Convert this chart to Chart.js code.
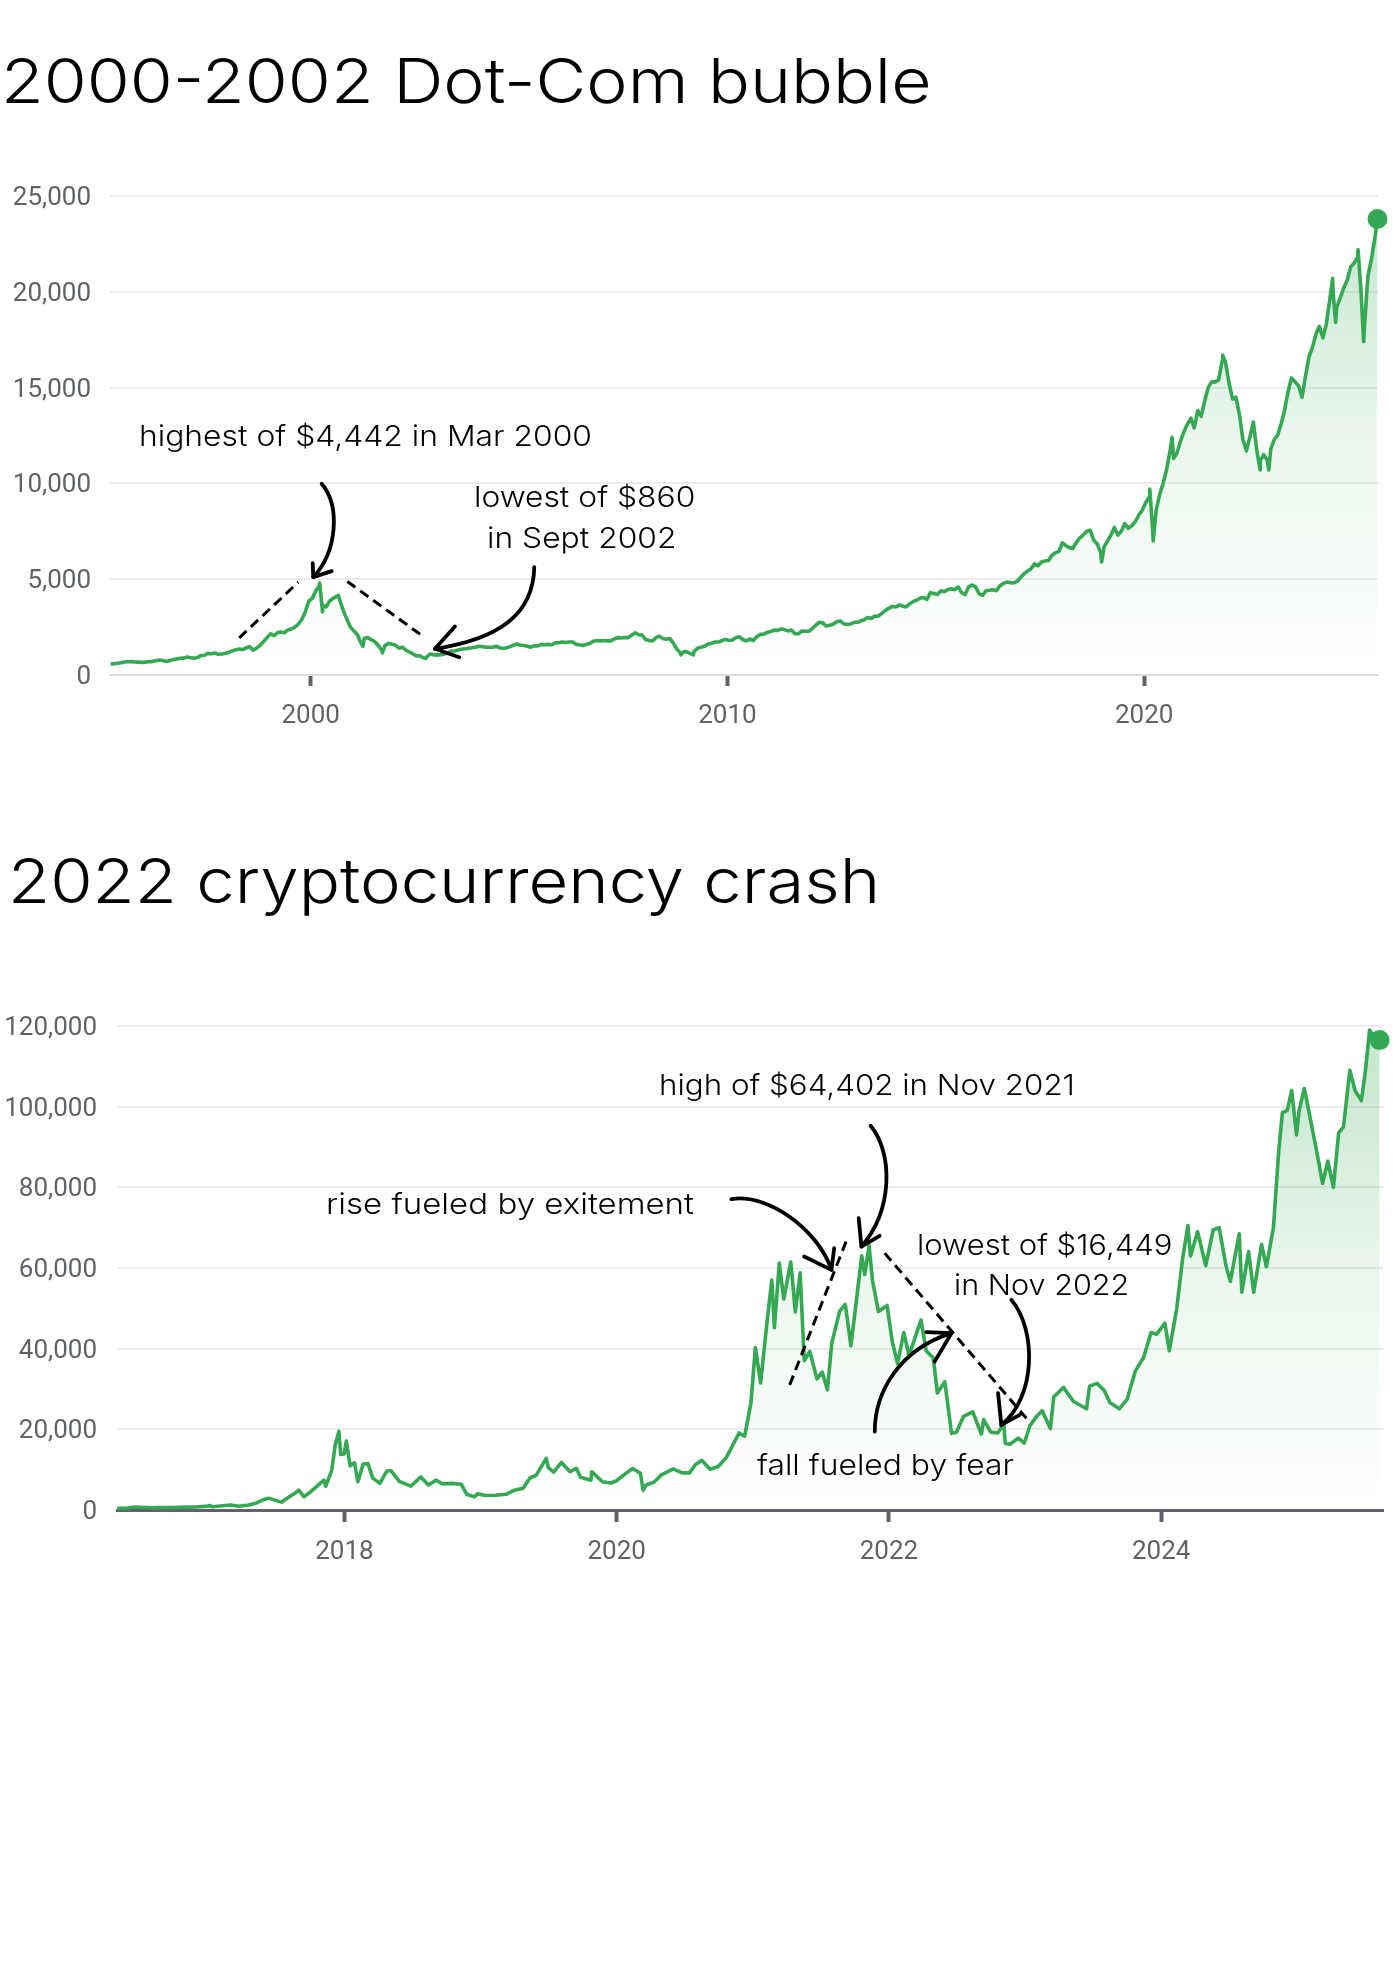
<!DOCTYPE html>
<html><head><meta charset="utf-8">
<script src="https://cdn.jsdelivr.net/npm/chart.js@4.4.1/dist/chart.umd.min.js"></script>
<style>
html,body{margin:0;padding:0;background:#fff;}
body{width:1400px;height:1980px;position:relative;overflow:hidden;}
.box{position:absolute;left:0;width:1400px;height:600px;}
.lbl{position:absolute;left:0;top:0;white-space:nowrap;color:#000;margin:0;padding:0;}
</style></head><body>
<div class="box" style="top:150px"><canvas id="c1"></canvas></div>
<div class="box" style="top:980px"><canvas id="c2"></canvas></div>
<script>
// ---------------- DATA ----------------
// Nasdaq-100, monthly readings (mid-month)
const nasdaq1995to1999 = [ // from Mar 1995
  570,590,610,640,680,690,700,680,670,660,
  670,700,700,740,780,760,710,750,810,830,870,880,
  940,900,870,920,1010,1030,1130,1110,1150,1080,1100,1130,
  1180,1260,1320,1360,1330,1420,1480,1300,1400,1550,1750,1950,
  2150,2050,2200,2250,2200,2350,2400,2500,2650,2900,3300,3850];
const nasdaq2000to2004 = [
  4000,4400,4650,3650,3550,3850,4000,4100,3850,3350,2900,2500,
  2300,2100,1700,1900,1950,1850,1750,1550,1300,1550,1650,1600,
  1550,1400,1450,1300,1200,1100,1000,1000,900,950,1100,1050,
  1050,1050,1100,1150,1250,1250,1300,1350,1370,1400,1420,1450,
  1500,1480,1450,1450,1450,1500,1420,1380,1420,1480,1560,1620];
const nasdaq2005to2009 = [
  1550,1540,1500,1450,1530,1520,1600,1580,1600,1580,1680,1680,
  1720,1700,1720,1720,1600,1580,1540,1600,1660,1760,1800,1780,
  1800,1780,1780,1880,1950,1940,1960,1950,2080,2200,2100,2080,
  1850,1800,1780,1950,2030,1900,1870,1900,1650,1350,1150,1220,
  1200,1100,1230,1400,1450,1500,1620,1650,1720,1720,1800,1860];
const nasdaq2010to2014 = [
  1800,1830,1950,2000,1850,1780,1880,1800,2000,2120,2130,2220,
  2270,2340,2330,2400,2370,2300,2350,2150,2150,2300,2280,2280,
  2430,2600,2750,2720,2560,2600,2650,2780,2820,2680,2640,2660,
  2750,2750,2830,2880,3000,2950,3080,3070,3220,3360,3480,3580,
  3550,3650,3600,3550,3700,3830,3900,4000,4050,3950,4300,4250];
const nasdaq2015to2019 = [
  4200,4400,4350,4450,4500,4450,4600,4300,4200,4600,4700,4600,
  4250,4150,4400,4420,4450,4400,4650,4780,4850,4820,4800,4900,
  5100,5300,5420,5550,5800,5700,5900,5950,5980,6250,6380,6450,
  6900,6750,6650,6600,6900,7150,7300,7500,7550,7050,6850,6400,
  6700,7000,7300,7700,7300,7500,7900,7650,7800,8000,8350,8600];
const nasdaq2020to2025 = [ // to Jul 2025
  9000,9300,7600,8600,9400,10000,10700,11700,11300,11600,12200,12700,
  13100,13400,12900,13800,13500,14300,15000,15300,15300,15400,16400,16300,
  15200,14400,14500,13600,12300,11700,12400,13200,11700,11200,11500,11200,
  11800,12300,12500,13100,13800,14800,15500,15300,15100,14500,15600,16600,
  17100,17800,18200,17600,18300,19600,19900,19200,19700,20200,20600,21300,
  21500,21800,20100,18200,20800,21700,22800];
const nasdaqTurningPoints = [
  ["2000-03-20",4800],["2000-04-14",3300],["2000-09-01",4150],["2001-04-04",1500],
  ["2001-09-21",1150],["2002-10-08",860],["2008-11-20",1050],["2009-03-09",1050],
  ["2018-12-24",5900],["2020-02-19",9700],["2020-03-20",7000],["2020-09-02",12400],
  ["2021-11-19",16700],["2022-10-13",10700],["2022-12-28",10700],["2024-07-10",20700],
  ["2024-08-05",18400],["2025-02-18",22200],["2025-04-08",17400],["2025-08-07",23800]];

// Bitcoin, [MM-DD, price] readings per year
const btc2016 = [["05-01",450],["05-25",450],["06-17",750],["07-01",670],["08-02",550],["08-20",580],["09-15",610],["10-15",640],["11-10",710],["12-01",750],["12-31",960]];
const btc2017 = [["01-04",1130],["01-12",790],["02-01",990],["03-02",1220],["03-24",930],["04-20",1230],["05-10",1750],["05-25",2400],["06-11",2950],["07-16",1950],["08-05",3200],["08-20",4100],["09-01",4900],["09-14",3300],["10-01",4400],["10-20",6000],["11-07",7400],["11-12",5900],["11-28",9900],["12-07",16000],["12-17",19500],["12-22",13800],["12-31",13900]];
const btc2018 = [["01-06",17100],["01-16",11000],["01-28",11700],["02-06",7000],["02-20",11400],["03-05",11500],["03-18",7900],["04-06",6600],["04-24",9600],["05-05",9800],["05-28",7100],["06-28",5900],["07-25",8200],["08-14",6200],["09-04",7400],["09-20",6500],["10-15",6600],["11-10",6400],["11-25",3900],["12-15",3250],["12-24",4000]];
const btc2019 = [["01-15",3600],["02-10",3650],["03-10",3900],["04-02",4900],["04-25",5400],["05-14",8000],["05-30",8600],["06-26",12800],["07-02",10500],["07-16",9400],["08-06",11800],["08-29",9500],["09-15",10300],["09-26",8100],["10-24",7400],["10-26",9500],["11-24",7000],["12-17",6700],["12-31",7200]];
const btc2020 = [["01-20",8700],["02-13",10300],["03-05",9100],["03-12",4900],["03-20",6200],["04-10",6900],["04-30",8700],["05-15",9400],["06-01",10200],["06-25",9200],["07-15",9200],["07-31",11300],["08-17",12300],["09-08",10100],["09-30",10800],["10-21",12900],["11-05",15500],["11-25",19100],["12-10",18300],["12-27",26500]];
const btc2021 = [["01-08",40300],["01-22",31500],["02-08",46500],["02-21",57000],["02-28",45200],["03-13",61200],["03-25",52300],["04-13",61500],["04-25",49100],["05-08",58800],["05-19",37000],["06-03",39300],["06-22",32500],["07-06",34200],["07-20",29800],["08-01",41500],["08-22",49300],["09-06",51000],["09-21",40700],["10-01",48200],["10-20",63000],["10-28",58400],["11-09",65500],["11-18",56900],["12-04",49200],["12-27",50700]];
const btc2022 = [["01-10",41800],["01-24",36300],["02-10",44000],["02-24",38300],["03-28",47100],["04-11",39500],["04-30",37700],["05-11",29000],["05-31",31800],["06-18",19000],["07-01",19300],["07-20",23200],["08-14",24300],["09-06",18800],["09-12",22400],["10-01",19300],["10-20",19100],["11-05",21300],["11-09",16500],["11-21",16300],["12-14",17800],["12-30",16600]];
const btc2023 = [["01-14",20900],["01-31",23100],["02-16",24600],["03-10",20200],["03-19",28000],["04-14",30400],["05-11",26900],["06-15",25100],["06-23",30700],["07-13",31400],["08-01",29700],["08-17",26600],["09-11",25100],["10-02",27500],["10-24",34500],["11-15",37800],["12-05",44000],["12-20",43600]];
const btc2024 = [["01-11",46300],["01-23",39500],["02-12",50000],["02-28",62500],["03-13",70500],["03-20",63000],["04-08",69000],["04-30",60600],["05-20",69500],["06-05",70000],["06-24",60300],["07-05",56700],["07-29",68500],["08-05",54000],["08-23",64100],["09-06",54000],["09-27",65900],["10-10",60300],["10-29",70000],["11-12",88700],["11-22",98500],["12-05",99000],["12-17",104000],["12-30",93000]];
const btc2025 = [["01-06",99000],["01-20",104500],["02-03",98000],["02-24",88000],["03-10",81000],["03-24",86500],["04-08",80000],["04-22",93500],["05-05",95000],["05-22",109000],["06-05",104000],["06-22",101500],["07-03",109000],["07-14",119000],["07-24",117500],["08-10",116500]];

// Axis ticks
const dotcomYearTicks = [2000, 2010, 2020];
const cryptoYearTicks = [2018, 2020, 2022, 2024];

// Titles and annotation texts
const titleDotcom = "2000-2002 Dot-Com bubble";
const titleCrypto = "2022 cryptocurrency crash";
const notesDotcom = ["highest of $4,442 in Mar 2000", "lowest of $860", "in Sept 2002"];
const notesCrypto = ["high of $64,402 in Nov 2021", "rise fueled by exitement", "lowest of $16,449", "in Nov 2022", "fall fueled by fear"];

// Hand-drawn arrows / dashed guides, in data units [year, value]
const dotcomArrows = [
  {from:[2000.264,9982], c1:[2000.703,8850], c2:[2000.655,6500], to:[2000.062,5106], barbs:[[2000.048,5837],[2000.504,5419]]},
  {from:[2005.365,5628], c1:[2005.341,3195], c2:[2004.542,1890], to:[2002.982,1368], barbs:[[2003.462,2532],[2003.565,929]]}];
const dotcomDashes = [[[1998.287,1942],[1999.702,4845]], [[2000.878,4882],[2002.742,1942]]];
const cryptoArrows = [
  {from:[2020.843,77085], c1:[2021.113,78574], c2:[2021.480,69468], to:[2021.578,59544], barbs:[[2021.377,62844],[2021.598,64928]]},
  {from:[2021.866,95270], c1:[2022.031,88497], c2:[2022.031,74430], to:[2021.798,65325], barbs:[[2021.778,72371],[2021.932,67979]]},
  {from:[2021.896,19426], c1:[2021.896,28953], c2:[2022.068,39696], to:[2022.459,43839], barbs:[[2022.275,44087],[2022.336,36793]]},
  {from:[2022.900,52101], c1:[2023.085,44658], c2:[2023.083,28110], to:[2022.826,21089], barbs:[[2022.802,28953],[2022.961,23570]]}];
const cryptoDashes = [[[2021.271,31013],[2021.700,67806]], [[2021.969,63688],[2023.010,22751]]];

// ---------------- BUILD ----------------
function yearFrac(y, m, d) {
  const a = Date.UTC(y, 0, 1), b = Date.UTC(y + 1, 0, 1);
  return y + (Date.UTC(y, m - 1, d) - a) / (b - a);
}
function monthly(startYear, startMonth, values) {
  return values.map((v, i) => {
    const m0 = startMonth - 1 + i;
    return { x: yearFrac(startYear + Math.floor(m0 / 12), (m0 % 12) + 1, 15), y: v };
  });
}
function dated(list) {
  return list.map(([s, v]) => { const [y, m, d] = s.split('-').map(Number); return { x: yearFrac(y, m, d), y: v }; });
}
function yearly(year, list) {
  return list.map(([s, v]) => { const [m, d] = s.split('-').map(Number); return { x: yearFrac(year, m, d), y: v }; });
}
const nasdaqPoints = [].concat(
  monthly(1995, 3, nasdaq1995to1999), monthly(2000, 1, nasdaq2000to2004),
  monthly(2005, 1, nasdaq2005to2009), monthly(2010, 1, nasdaq2010to2014),
  monthly(2015, 1, nasdaq2015to2019), monthly(2020, 1, nasdaq2020to2025),
  dated(nasdaqTurningPoints)).sort((a, b) => a.x - b.x);
const btcPoints = [].concat(
  yearly(2016, btc2016), yearly(2017, btc2017), yearly(2018, btc2018), yearly(2019, btc2019),
  yearly(2020, btc2020), yearly(2021, btc2021), yearly(2022, btc2022), yearly(2023, btc2023),
  yearly(2024, btc2024), yearly(2025, btc2025)).sort((a, b) => a.x - b.x);

const GREEN = '#34a853';
const AXIS_TEXT = '#5f6368';
Chart.defaults.font.family = 'Roboto, "Noto Sans", sans-serif';

function greenFill(context) {
  const chart = context.chart, area = chart.chartArea;
  if (!area) return 'rgba(52,168,83,0.1)';
  const g = chart.ctx.createLinearGradient(0, area.top, 0, area.bottom);
  g.addColorStop(0, 'rgba(52,168,83,0.30)');
  g.addColorStop(0.5, 'rgba(52,168,83,0.10)');
  g.addColorStop(1, 'rgba(52,168,83,0)');
  return g;
}

function sketchPlugin(arrows, dashes) {
  return {
    id: 'sketch',
    afterDatasetsDraw(chart) {
      const ctx = chart.ctx, sx = chart.scales.x, sy = chart.scales.y;
      const P = p => [sx.getPixelForValue(p[0]), sy.getPixelForValue(p[1])];
      ctx.save();
      ctx.strokeStyle = '#000';
      ctx.lineWidth = 3; ctx.lineCap = 'butt'; ctx.setLineDash([10, 6]);
      dashes.forEach(([a, b]) => {
        const A = P(a), B = P(b);
        ctx.beginPath(); ctx.moveTo(A[0], A[1]); ctx.lineTo(B[0], B[1]); ctx.stroke();
      });
      ctx.setLineDash([]); ctx.lineWidth = 3.8; ctx.lineCap = 'round'; ctx.lineJoin = 'round';
      arrows.forEach(ar => {
        const f = P(ar.from), c1 = P(ar.c1), c2 = P(ar.c2), t = P(ar.to);
        const b1 = P(ar.barbs[0]), b2 = P(ar.barbs[1]);
        ctx.beginPath(); ctx.moveTo(f[0], f[1]); ctx.bezierCurveTo(c1[0], c1[1], c2[0], c2[1], t[0], t[1]); ctx.stroke();
        ctx.beginPath(); ctx.moveTo(b1[0], b1[1]); ctx.lineTo(t[0], t[1]); ctx.lineTo(b2[0], b2[1]); ctx.stroke();
      });
      ctx.restore();
    }
  };
}

function lineChart(id, points, o) {
  return new Chart(document.getElementById(id), {
    type: 'line',
    data: { datasets: [{
      data: points, borderColor: GREEN, borderWidth: 3.6, tension: 0, borderJoinStyle: 'round',
      pointRadius: c => c.dataIndex === points.length - 1 ? 10 : 0,
      pointHoverRadius: 0, pointBackgroundColor: GREEN, pointBorderWidth: 0,
      fill: 'origin', backgroundColor: greenFill, clip: 14
    }] },
    options: {
      responsive: true, maintainAspectRatio: false, animation: false, events: [],
      layout: { padding: { top: 46, right: o.padRight, left: 0, bottom: 0 } },
      plugins: { legend: { display: false }, tooltip: { enabled: false } },
      scales: {
        x: {
          type: 'linear', min: o.xMin, max: o.xMax,
          afterBuildTicks: s => { s.ticks = o.xTicks.map(v => ({ value: v })); },
          afterFit: s => { s.height = o.xHeight; },
          ticks: { callback: v => String(v), color: AXIS_TEXT, font: { size: 26 }, padding: 15, maxRotation: 0, autoSkip: false },
          grid: { drawOnChartArea: false, drawTicks: true, tickLength: o.tickLen, tickWidth: 4, tickColor: AXIS_TEXT },
          border: { display: true, color: o.axisColor, width: o.axisWidth }
        },
        y: {
          min: 0, max: o.yMax,
          afterFit: s => { s.width = o.yWidth; },
          ticks: { stepSize: o.yStep, color: AXIS_TEXT, font: { size: 26 }, padding: o.yPad, labelOffset: 2.5,
                   callback: v => Number(v).toLocaleString('en-US') },
          grid: { color: '#ececec', lineWidth: 2, drawTicks: false },
          border: { display: false }
        }
      }
    },
    plugins: [sketchPlugin(o.arrows, o.dashes)]
  });
}

lineChart('c1', nasdaqPoints, { padRight: 22, xMin: 1995.185, xMax: 2025.61, xTicks: dotcomYearTicks, xHeight: 75, tickLen: 11,
  axisColor: '#dadce0', axisWidth: 2, yMax: 25000, yStep: 5000, yWidth: 110, yPad: 19, arrows: dotcomArrows, dashes: dotcomDashes });
lineChart('c2', btcPoints, { padRight: 17, xMin: 2016.329, xMax: 2025.63, xTicks: cryptoYearTicks, xHeight: 70, tickLen: 12,
  axisColor: '#5f6368', axisWidth: 3, yMax: 120000, yStep: 20000, yWidth: 117, yPad: 20, arrows: cryptoArrows, dashes: cryptoDashes });

// ---------------- TEXT ----------------
const TEXT_FONT = 'Inter, "Noto Sans", sans-serif';
const mctx = document.createElement('canvas').getContext('2d');
function placeText(text, inkLeft, inkRight, baseline, size, weight) {
  const font = weight + ' ' + size + 'px ' + TEXT_FONT;
  mctx.font = font;
  const m = mctx.measureText(text);
  const ink = m.actualBoundingBoxLeft + m.actualBoundingBoxRight;
  const k = (inkRight - inkLeft) / ink;
  const el = document.createElement('div');
  el.className = 'lbl';
  el.style.font = font;
  el.style.lineHeight = '1';
  el.style.transformOrigin = '0 0';
  el.style.transform = 'scaleX(' + k + ')';
  el.appendChild(document.createTextNode(text));
  const probe = document.createElement('span');
  probe.style.cssText = 'display:inline-block;width:0;height:0;vertical-align:baseline;';
  el.appendChild(probe);
  document.body.appendChild(el);
  el.style.left = (inkLeft + m.actualBoundingBoxLeft * k) + 'px';
  el.style.top = (baseline - probe.offsetTop) + 'px';
}
placeText(titleDotcom, 7, 928.6, 102.7, 62, 300);
placeText(titleCrypto, 13.4, 875, 902.7, 62, 300);
placeText(notesDotcom[0], 141.7, 590.7, 445.7, 28.5, 300);
placeText(notesDotcom[1], 476.7, 694, 507.3, 28.5, 300);
placeText(notesDotcom[2], 488.3, 675, 548.3, 28.5, 300);
placeText(notesCrypto[0], 661.5, 1072.8, 1094.8, 28.5, 300);
placeText(notesCrypto[1], 328, 693, 1214, 28.5, 300);
placeText(notesCrypto[2], 919, 1171, 1255, 28.5, 300);
placeText(notesCrypto[3], 955, 1127.7, 1295, 28.5, 300);
placeText(notesCrypto[4], 756.7, 1013.3, 1475, 28.5, 300);
</script></body></html>
